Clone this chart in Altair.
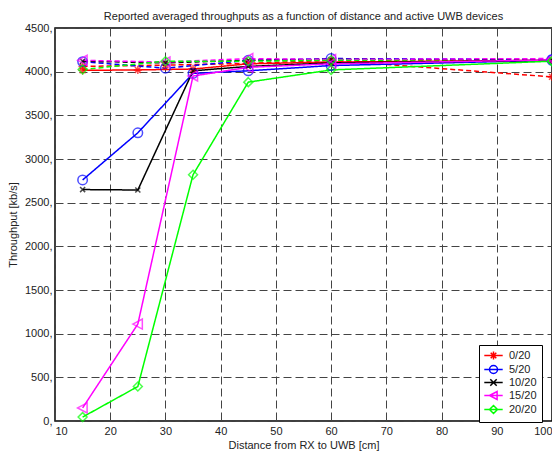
import altair as alt
import pandas as pd

series = ["0/20", "5/20", "10/20", "15/20", "20/20"]
colors = ["#FF0000", "#0000FF", "#000000", "#FF00FF", "#00FF00"]

x_solid = [15, 25, 35, 45, 60, 100]
solid_0 = [4015, 4020, 4030, 4090, 4110, 4130]
solid_5 = [2760, 3300, 3980, 4010, 4070, 4130]
solid_10 = [2650, 2645, 4010, 4060, 4100, 4130]
solid_15 = [150, 1110, 3950, 4050, 4090, 4135]
solid_20 = [45, 395, 2820, 3880, 4020, 4120]

x_dashed = [15, 30, 45, 60, 100]
dashed_0 = [4060, 4075, 4095, 4130, 3940]
dashed_5 = [4115, 4040, 4130, 4150, 4140]
dashed_10 = [4120, 4100, 4130, 4140, 4130]
dashed_15 = [4130, 4110, 4150, 4140, 4150]
dashed_20 = [4025, 4120, 4120, 4130, 4120]

y_ticks = [0, 500, 1000, 1500, 2000, 2500, 3000, 3500, 4000, 4500]
x_ticks = [10, 20, 30, 40, 50, 60, 70, 80, 90, 100]

solid_vals = [solid_0, solid_5, solid_10, solid_15, solid_20]
dashed_vals = [dashed_0, dashed_5, dashed_10, dashed_15, dashed_20]

# marker shapes (unit coordinates)
star = "M0,-1V1M-1,0H1M-0.7,-0.7L0.7,0.7M-0.7,0.7L0.7,-0.7"
circle = "M1,0A1,1 0 1,1 -1,0A1,1 0 1,1 1,0Z"
xmark = "M-0.8,-0.8L0.8,0.8M-0.8,0.8L0.8,-0.8"
tri_left = "M-1,0L0.9,-1L0.9,1Z"
diamond = "M0,-1L1,0L0,1L-1,0Z"
markers = [star, circle, xmark, tri_left, diamond]
marker_sizes = [70, 90, 40, 100, 80]
legend_line = "M-2.3,0H2.3"
legend_paths = [legend_line + m for m in markers]

rows = []
for s, vals in zip(series, dashed_vals):
    for x, y in zip(x_dashed, vals):
        rows.append({"series": s, "run": "dashed", "key": s + "d", "x": x, "y": y})
for s, vals in zip(series, solid_vals):
    for x, y in zip(x_solid, vals):
        rows.append({"series": s, "run": "solid", "key": s + "s", "x": x, "y": y})
df = pd.DataFrame(rows)

xs = alt.Scale(domain=[10, 100], nice=False, zero=False)
ys = alt.Scale(domain=[0, 4500], nice=False)
X = alt.X("x:Q", scale=xs, axis=alt.Axis(values=x_ticks, title="Distance from RX to UWB [cm]"))
Y = alt.Y("y:Q", scale=ys, axis=alt.Axis(values=y_ticks, title="Throughput [kb/s]",
                                        labelExpr="datum.value + ','"))
cscale = alt.Scale(domain=series, range=colors)

leg = alt.Legend(title=None, orient="none", legendX=424, legendY=317, fillColor="white",
                 strokeColor="black", padding=5, labelFontSize=11, labelFont="Liberation Sans",
                 labelColor="#222", symbolSize=64, symbolStrokeWidth=1.5, rowPadding=-1,
                 symbolOffset=4, labelOffset=10, cornerRadius=0, symbolOpacity=1)
legend_layer = alt.Chart(df[df["run"] == "solid"].drop_duplicates("series")).mark_point(opacity=0, filled=False).encode(
    x=X, y=Y,
    color=alt.Color("series:N", scale=cscale, legend=leg),
    shape=alt.Shape("series:N", scale=alt.Scale(domain=series, range=legend_paths), legend=leg),
)

lines = alt.Chart(df).mark_line(strokeWidth=1.5).encode(
    x=X, y=Y,
    color=alt.Color("series:N", scale=cscale, legend=None),
    strokeDash=alt.StrokeDash("run:N", scale=alt.Scale(domain=["dashed", "solid"], range=[[5, 3], [1, 0]]), legend=None),
    detail="key:N",
    order="x:Q",
)

point_layers = []
for s, c, m, sz in zip(series, colors, markers, marker_sizes):
    point_layers.append(
        alt.Chart(df[df["series"] == s]).mark_point(shape=m, filled=False, size=sz, color=c, strokeWidth=1.5).encode(x=X, y=Y)
    )

chart = alt.layer(legend_layer, lines, *point_layers).properties(
    width=497, height=393,
    autosize=alt.AutoSizeParams(type="none"),
    padding={"left": 47, "top": 20, "right": 0, "bottom": 32},
    title=alt.Title("Reported averaged throughputs as a function of distance and active UWB devices",
                    fontSize=11, fontWeight="normal", font="Liberation Sans", color="#222", offset=0),
).configure_view(stroke="black", strokeWidth=1.5).configure_axis(
    grid=True, gridColor="#444", gridDash=[8, 4], gridWidth=1,
    domain=False, ticks=False, labelFont="Liberation Sans", labelFontSize=11, labelColor="#222",
    titleFont="Liberation Sans", titleFontSize=11, titleFontWeight="normal", titleColor="#222",
).configure_axisX(labelPadding=4, titlePadding=3).configure_axisY(labelPadding=3, titlePadding=6)

chart.save("out.html", embed_options={"renderer": "svg", "actions": False})
